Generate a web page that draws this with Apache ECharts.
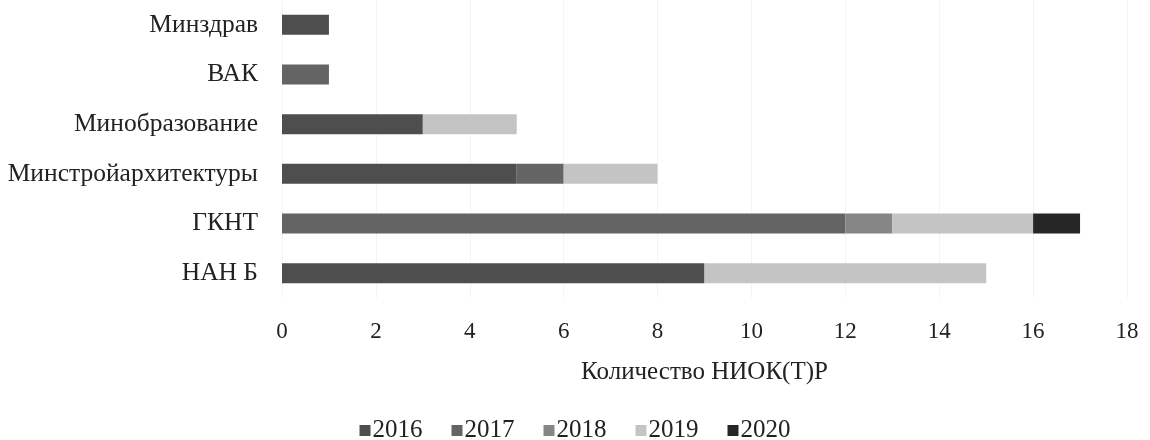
<!DOCTYPE html>
<html><head><meta charset="utf-8">
<script src="https://cdn.jsdelivr.net/npm/echarts@6/dist/echarts.min.js"></script>
<style>html,body{margin:0;padding:0;background:#fff}#c{width:1150px;height:440px}</style>
</head><body><div id="c"></div>
<script>
const categories = ['НАН Б', 'ГКНТ', 'Минстройархитектуры', 'Минобразование', 'ВАК', 'Минздрав'];
const years = ['2016', '2017', '2018', '2019', '2020'];
const v2016 = [9, 0, 5, 3, 0, 1];
const v2017 = [0, 12, 1, 0, 1, 0];
const v2018 = [0, 1, 0, 0, 0, 0];
const v2019 = [6, 3, 2, 2, 0, 0];
const v2020 = [0, 1, 0, 0, 0, 0];
const xTicks = [0, 2, 4, 6, 8, 10, 12, 14, 16, 18];
const values = [v2016, v2017, v2018, v2019, v2020];
const colors = ['#4e4e4e', '#646464', '#868686', '#c4c4c4', '#262626'];
const font = 'Liberation Serif';
const chart = echarts.init(document.getElementById('c'));
chart.setOption({
  animation: false,
  color: colors,
  textStyle: { fontFamily: font },
  grid: { left: 282, right: 23, top: -7, height: 305, containLabel: false },
  legend: {
    top: 413, left: 'center', itemWidth: 11, itemHeight: 11, itemGap: 29,
    icon: 'rect',
    textStyle: { fontFamily: font, fontSize: 25, color: '#222', padding: [0, 0, 0, -3] },
    data: years
  },
  xAxis: {
    type: 'value', min: xTicks[0], max: xTicks[xTicks.length - 1], interval: 2,
    axisLine: { show: false }, axisTick: { show: false },
    splitLine: { show: true, lineStyle: { color: '#f4f4f4' } },
    axisLabel: { fontFamily: font, fontSize: 23, color: '#222', margin: 22 },
    name: 'Количество НИОК(Т)Р', nameLocation: 'middle', nameGap: 62,
    nameTextStyle: { fontFamily: font, fontSize: 25, color: '#222' }
  },
  yAxis: {
    type: 'category', data: categories,
    axisLine: { show: false }, axisTick: { show: false },
    axisLabel: { fontFamily: font, fontSize: 25.5, color: '#222', margin: 24 }
  },
  series: years.map((y, i) => ({
    name: y, type: 'bar', stack: 'total', barWidth: 20,
    data: values[i].map(v => v === 0 ? null : v),
    itemStyle: { color: colors[i] }
  }))
});
</script></body></html>
